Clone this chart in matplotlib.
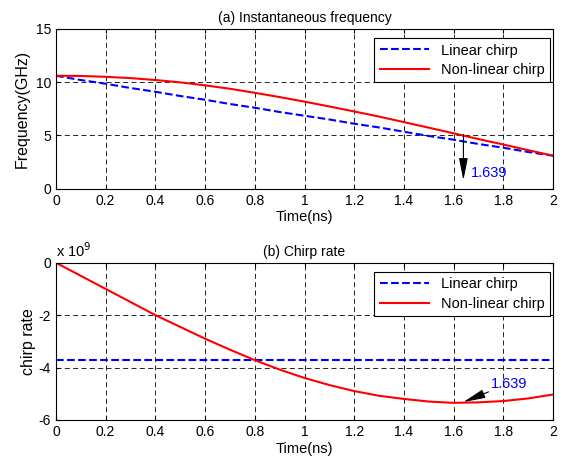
import numpy as np
import matplotlib
matplotlib.use('Agg')
import matplotlib.pyplot as plt

plt.rcParams['font.family'] = ['Liberation Sans', 'DejaVu Sans']
plt.rcParams['font.size'] = 10
plt.rcParams['axes.unicode_minus'] = False

# time axis (ns)
t = [0.0, 0.1, 0.2, 0.3, 0.4, 0.5, 0.6, 0.7, 0.8, 0.9, 1.0,
     1.1, 1.2, 1.3, 1.4, 1.5, 1.6, 1.7, 1.8, 1.9, 2.0]

# (a) instantaneous frequency, GHz
freq_linear = [10.6, 10.2, 9.85, 9.45, 9.1, 8.7, 8.35, 7.95, 7.6, 7.2, 6.85,
               6.5, 6.1, 5.75, 5.35, 4.95, 4.6, 4.2, 3.85, 3.45, 3.1]
freq_nonlinear = [10.6, 10.58, 10.5, 10.38, 10.2, 9.98, 9.7, 9.38, 9.0, 8.6, 8.17,
                  7.72, 7.25, 6.77, 6.25, 5.73, 5.2, 4.66, 4.15, 3.62, 3.1]

# (b) chirp rate, x 1e9
rate_linear = [-3.73] * len(t)
rate_nonlinear = [0.0, -0.5, -1.0, -1.5, -2.0, -2.45, -2.9, -3.32, -3.72, -4.08, -4.4,
                  -4.67, -4.9, -5.08, -5.2, -5.3, -5.35, -5.33, -5.28, -5.18, -5.03]

t_mark = 1.639
xticks = [0, 0.2, 0.4, 0.6, 0.8, 1, 1.2, 1.4, 1.6, 1.8, 2]
xticklabels = ['0', '0.2', '0.4', '0.6', '0.8', '1', '1.2', '1.4', '1.6', '1.8', '2']

arrow_style = dict(arrowstyle='-|>,head_length=0.75,head_width=0.15', color='black',
                   lw=0.8, mutation_scale=18, shrinkA=0, shrinkB=0)


def style_axes(ax):
    ax.set_xlim(0, 2)
    ax.set_xticks(xticks)
    ax.set_xticklabels(xticklabels)
    ax.grid(True, color='black', linestyle=(0, (6, 4)), linewidth=0.6)
    ax.tick_params(direction='in', length=3, top=True, right=True, labelsize=10)
    for s in ax.spines.values():
        s.set_linewidth(0.8)
    ax.set_xlabel('Time(ns)', labelpad=2, fontsize=10.5)


def add_legend(ax):
    leg = ax.legend(loc='upper right', bbox_to_anchor=(0.993, 0.94), fontsize=10.5,
                    fancybox=False, framealpha=1, edgecolor='black',
                    handlelength=3.4, borderaxespad=0.0, labelspacing=0.4,
                    borderpad=0.35)
    leg.get_frame().set_linewidth(0.8)


fig = plt.figure(figsize=(5.65, 4.65), dpi=100)
ax1 = fig.add_axes([0.099, 0.594, 0.880, 0.344])
ax2 = fig.add_axes([0.099, 0.097, 0.880, 0.338])

# top panel
ax1.plot(t, freq_linear, color='blue', linestyle='--', linewidth=1.5, label='Linear chirp')
ax1.plot(t, freq_nonlinear, color='red', linewidth=1.5, label='Non-linear chirp')
ax1.set_ylim(0, 15)
ax1.set_yticks([0, 5, 10, 15])
style_axes(ax1)
ax1.set_ylabel('Frequency(GHz)', labelpad=4, fontsize=11.5)
ax1.set_title('(a) Instantaneous frequency', fontsize=10, pad=5)
add_legend(ax1)
ax1.annotate('', xy=(t_mark, 0.8), xytext=(t_mark, 5.1), arrowprops=arrow_style)
ax1.text(1.67, 1.5, '1.639', color='blue', fontsize=10.5, va='center')

# bottom panel
ax2.plot(t, rate_linear, color='blue', linestyle='--', linewidth=1.5, label='Linear chirp')
ax2.plot(t, rate_nonlinear, color='red', linewidth=1.5, label='Non-linear chirp')
ax2.set_ylim(-6, 0)
ax2.set_yticks([-6, -4, -2, 0])
style_axes(ax2)
ax2.set_ylabel('chirp rate', labelpad=2, fontsize=11.5)
ax2.set_title('(b) Chirp rate', fontsize=10, pad=5)
ax2.text(0.0, 1.02, r'x 10$^{9}$', transform=ax2.transAxes, fontsize=10.5, va='bottom')
add_legend(ax2)
ax2.annotate('', xy=(t_mark, -5.32), xytext=(1.74, -4.93), arrowprops=arrow_style)
ax2.text(1.75, -4.62, '1.639', color='blue', fontsize=10.5, va='center')

fig.savefig('out.png', dpi=100)
